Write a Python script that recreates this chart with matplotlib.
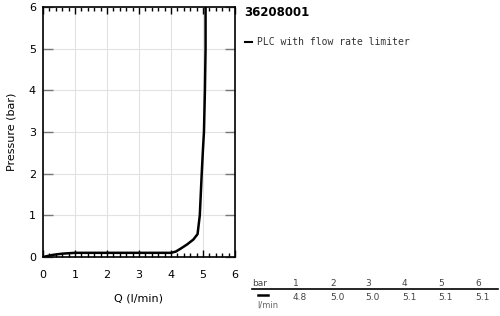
import numpy as np
import matplotlib
matplotlib.use("Agg")
import matplotlib.pyplot as plt
from matplotlib.lines import Line2D
from matplotlib.ticker import MultipleLocator

# curve
q = [0.0, 0.3, 0.6, 1.0, 2.0, 3.0, 4.0, 4.15, 4.3, 4.5, 4.7, 4.83, 4.9, 4.96, 5.0, 5.03, 5.06, 5.08, 5.08]
p = [0.0, 0.05, 0.08, 0.1, 0.1, 0.1, 0.1, 0.13, 0.2, 0.3, 0.42, 0.55, 1.0, 2.0, 2.6, 3.0, 4.0, 5.0, 6.0]

series_name = "PLC with flow rate limiter"
title = "36208001"
table_bar = ["1", "2", "3", "4", "5", "6"]
table_flow = ["4.8", "5.0", "5.0", "5.1", "5.1", "5.1"]

W, H = 500, 316
fig = plt.figure(figsize=(W / 100, H / 100), dpi=100)
ax = fig.add_axes([43 / W, 1 - 257 / H, 192 / W, 250 / H])

ax.plot(q, p, color="black", lw=1.8, solid_capstyle="butt")
ax.set_xlim(0, 6)
ax.set_ylim(0, 6)
ax.xaxis.set_major_locator(MultipleLocator(1))
ax.xaxis.set_minor_locator(MultipleLocator(0.2))
ax.yaxis.set_major_locator(MultipleLocator(1))
ax.grid(True, which="major", color="#e2e2e2", lw=0.8)
ax.tick_params(which="both", direction="in", top=True, right=True, labelsize=8, colors="black")
ax.tick_params(which="major", length=5, width=1)
ax.tick_params(which="minor", length=3, width=1)
ax.tick_params(axis="x", which="major", pad=9)
ax.tick_params(axis="y", which="major", length=7, color="#777777", pad=5)
for s in ax.spines.values():
    s.set_linewidth(1.2)
ax.set_xlabel("Q (l/min)", fontsize=8, labelpad=10)
ax.set_ylabel("Pressure (bar)", fontsize=8, labelpad=9)

# title and legend
fig.text(244 / W, 1 - 12 / H, title, fontsize=8.5, fontweight="bold", va="center")
fig.add_artist(Line2D([245 / W, 252 / W], [1 - 42 / H] * 2, color="black", lw=1.5))
fig.text(257 / W, 1 - 42 / H, series_name, fontsize=7, family="DejaVu Sans Mono",
         va="center", color="#333333")

# small table
tx = [293, 330, 365, 402, 438, 475]
fig.text(252 / W, 1 - 284 / H, "bar", fontsize=6.5, color="#444444", va="center")
for x, b, f in zip(tx, table_bar, table_flow):
    fig.text(x / W, 1 - 284 / H, b, fontsize=6.5, color="#444444", va="center")
    fig.text(x / W, 1 - 297 / H, f, fontsize=6.5, color="#444444", va="center")
fig.add_artist(Line2D([252 / W, 498 / W], [1 - 289 / H] * 2, color="black", lw=1.2))
fig.add_artist(Line2D([258 / W, 268 / W], [1 - 295 / H] * 2, color="black", lw=1.8))
fig.text(257 / W, 1 - 305 / H, "l/min", fontsize=6, color="#666666", va="center")

fig.savefig("out.png", dpi=100)
